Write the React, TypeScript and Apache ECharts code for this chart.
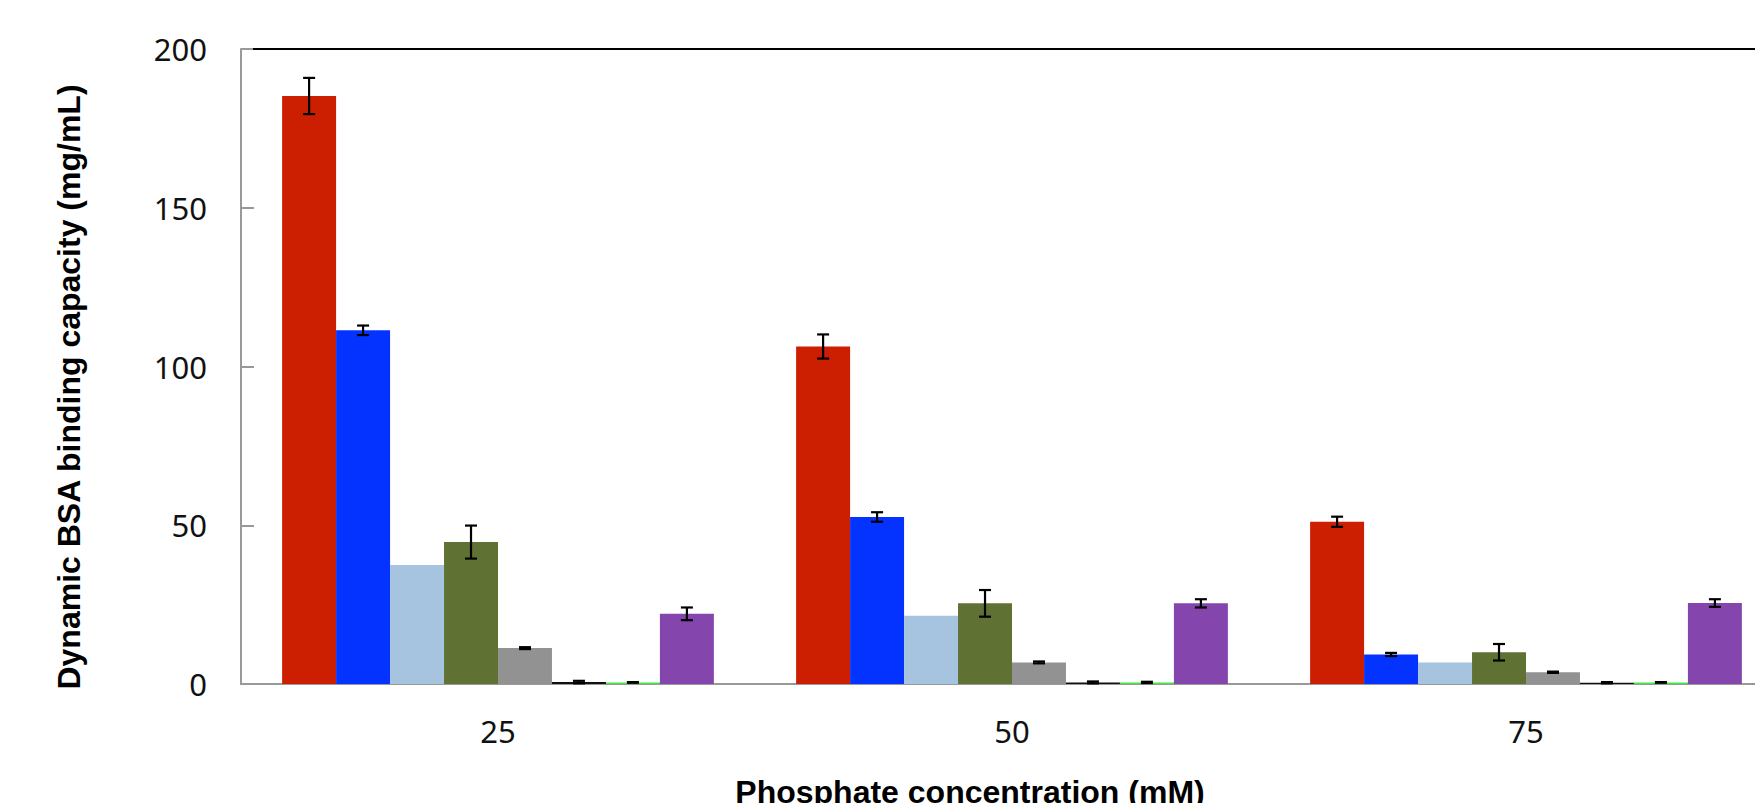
import React, { useEffect, useRef } from "react";
import * as echarts from "echarts";

const categories = ["25", "50", "75"];
const seriesNames = ["Series 1", "Series 2", "Series 3", "Series 4", "Series 5", "Series 6", "Series 7", "Series 8"];
const seriesColors = ["#CC1E00", "#0433FF", "#A6C3E0", "#5F7233", "#929292", "#111111", "#3DEB3D", "#8446AD"];

const s1 = [185.2, 106.3, 51.1];
const s2 = [111.4, 52.6, 9.3];
const s3 = [37.5, 21.5, 6.8];
const s4 = [44.7, 25.4, 10.0];
const s5 = [11.3, 6.8, 3.7];
const s6 = [0.6, 0.5, 0.4];
const s7 = [0.5, 0.5, 0.5];
const s8 = [22.1, 25.4, 25.5];

const e1 = [5.7, 3.8, 1.6];
const e2 = [1.5, 1.5, 0.5];
const e3: (number | null)[] = [null, null, null];
const e4 = [5.2, 4.2, 2.6];
const e5 = [0.3, 0.3, 0.2];
const e6 = [0.4, 0.3, 0.2];
const e7 = [0.1, 0.2, 0.1];
const e8 = [2.0, 1.3, 1.2];

const yTicks = { min: 0, max: 200, interval: 50 };

const allValues = [s1, s2, s3, s4, s5, s6, s7, s8];
const allErrors = [e1, e2, e3, e4, e5, e6, e7, e8];

const CATEGORY_GAP = 0.16;

export default function App() {
  const ref = useRef<HTMLDivElement>(null);
  useEffect(() => {
    if (!ref.current) return;
    const chart = echarts.init(ref.current, null, { renderer: "svg" });
    const nSeries = allValues.length;

    const errData: number[][] = [];
    allErrors.forEach((errs, si) => {
      errs.forEach((e, ci) => {
        if (e != null) errData.push([ci, si, allValues[si][ci], e]);
      });
    });

    const barSeries = allValues.map((vals, i) => ({
      type: "bar",
      name: seriesNames[i],
      data: vals,
      barGap: "0%",
      barCategoryGap: CATEGORY_GAP * 100 + "%",
      itemStyle: { color: seriesColors[i] },
      z: 2,
    }));

    const option: any = {
      animation: false,
      backgroundColor: "#ffffff",
      grid: {
        left: 241,
        top: 49,
        width: 1542,
        height: 635,
        containLabel: false,
        outerBoundsMode: "none",
      },
      xAxis: {
        type: "category",
        data: categories,
        axisLine: { show: true, lineStyle: { color: "#999999", width: 2 } },
        axisTick: { show: false },
        axisLabel: {
          margin: 31,
          fontFamily: "Noto Sans",
          fontSize: 31,
          color: "#111111",
        },
      },
      yAxis: {
        type: "value",
        min: yTicks.min,
        max: yTicks.max,
        interval: yTicks.interval,
        axisLine: { show: true, lineStyle: { color: "#999999", width: 2 } },
        axisTick: { show: true, inside: true, length: 13, lineStyle: { color: "#999999", width: 2 } },
        splitLine: { show: false },
        axisLabel: {
          margin: 34,
          fontFamily: "Noto Sans",
          fontSize: 31,
          color: "#111111",
        },
      },
      series: [
        ...barSeries,
        {
          type: "custom",
          name: "error",
          data: errData,
          z: 5,
          encode: { x: 0, y: 2 },
          renderItem: (params: any, api: any) => {
            const ci = api.value(0);
            const si = api.value(1);
            const v = api.value(2);
            const e = api.value(3);
            const bandW = api.size([1, 0])[0];
            const barW = (bandW * (1 - CATEGORY_GAP)) / nSeries;
            const xc = api.coord([ci, 0])[0] + (si - (nSeries - 1) / 2) * barW;
            const yTop = api.coord([ci, v + e])[1];
            const yBot = api.coord([ci, Math.max(0, v - e)])[1];
            const cap = 6;
            const style = { stroke: "#000000", lineWidth: 2.2 };
            return {
              type: "group",
              children: [
                { type: "line", shape: { x1: xc, y1: yTop, x2: xc, y2: yBot }, style },
                { type: "line", shape: { x1: xc - cap, y1: yTop, x2: xc + cap, y2: yTop }, style },
                { type: "line", shape: { x1: xc - cap, y1: yBot, x2: xc + cap, y2: yBot }, style },
              ],
            };
          },
        },
      ],
      graphic: [
        {
          type: "line",
          shape: { x1: 253, y1: 49, x2: 1755, y2: 49 },
          style: { stroke: "#000000", lineWidth: 2 },
          z: 10,
        },
        {
          type: "text",
          x: 69,
          y: 387,
          rotation: Math.PI / 2,
          style: {
            text: "Dynamic BSA binding capacity (mg/mL)",
            font: "bold 32px 'Liberation Sans'",
            fill: "#000000",
            align: "center",
            verticalAlign: "middle",
          },
        },
        {
          type: "text",
          x: 970,
          y: 776,
          style: {
            text: "Phosphate concentration (mM)",
            font: "bold 32px 'Liberation Sans'",
            fill: "#000000",
            align: "center",
            verticalAlign: "top",
          },
        },
      ],
    };
    chart.setOption(option);
    return () => chart.dispose();
  }, []);
  return (
    <div
      ref={ref}
      style={{ position: "fixed", left: 0, top: 0, width: 1755, height: 803, background: "#fff" }}
    />
  );
}
